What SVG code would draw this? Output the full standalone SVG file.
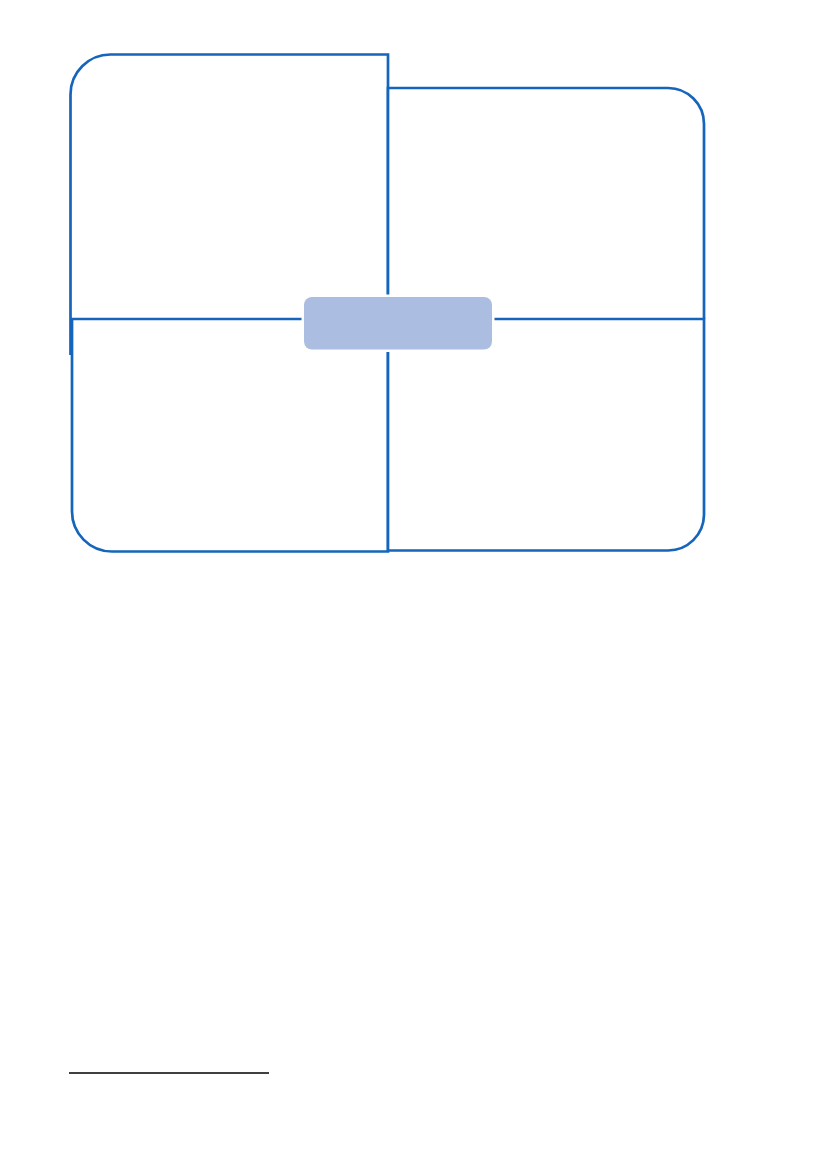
<svg xmlns="http://www.w3.org/2000/svg" width="826" height="1170" viewBox="0 0 826 1170">
<style>
.q{fill:#ffffff;stroke:#1465BB;stroke-width:2.7;stroke-linejoin:miter}
.hub-gap{fill:#ffffff}
.hub{fill:#ABBDE0}
.rule{stroke:#000000;stroke-width:1.3}
</style>
<rect width="826" height="1170" fill="#ffffff"/>
<g id="quadrant-top-left"><path class="q" d="M388,355 V54.5 H111 A40,40 0 0 0 70.5,94.5 V355"/></g>
<g id="quadrant-top-right"><path class="q" d="M388,319 V88 H668 A36,36 0 0 1 704,124 V319"/></g>
<g id="quadrant-bottom-left"><path class="q" d="M388,319 H72 V511 A40,40 0 0 0 112,551.5 H388 Z"/></g>
<g id="quadrant-bottom-right"><path class="q" d="M388,319 H704 V515 A36,36 0 0 1 668,550.5 H388 Z"/></g>
<g id="connectors"></g>
<g id="hub">
<rect class="hub-gap" x="301.5" y="294.5" width="193" height="57.5" rx="10"/>
<rect class="hub" x="304" y="297" width="188" height="52.5" rx="8"/>
</g>
<g id="footnote-rule"><line class="rule" x1="69" y1="1073" x2="269" y2="1073"/></g>
</svg>
